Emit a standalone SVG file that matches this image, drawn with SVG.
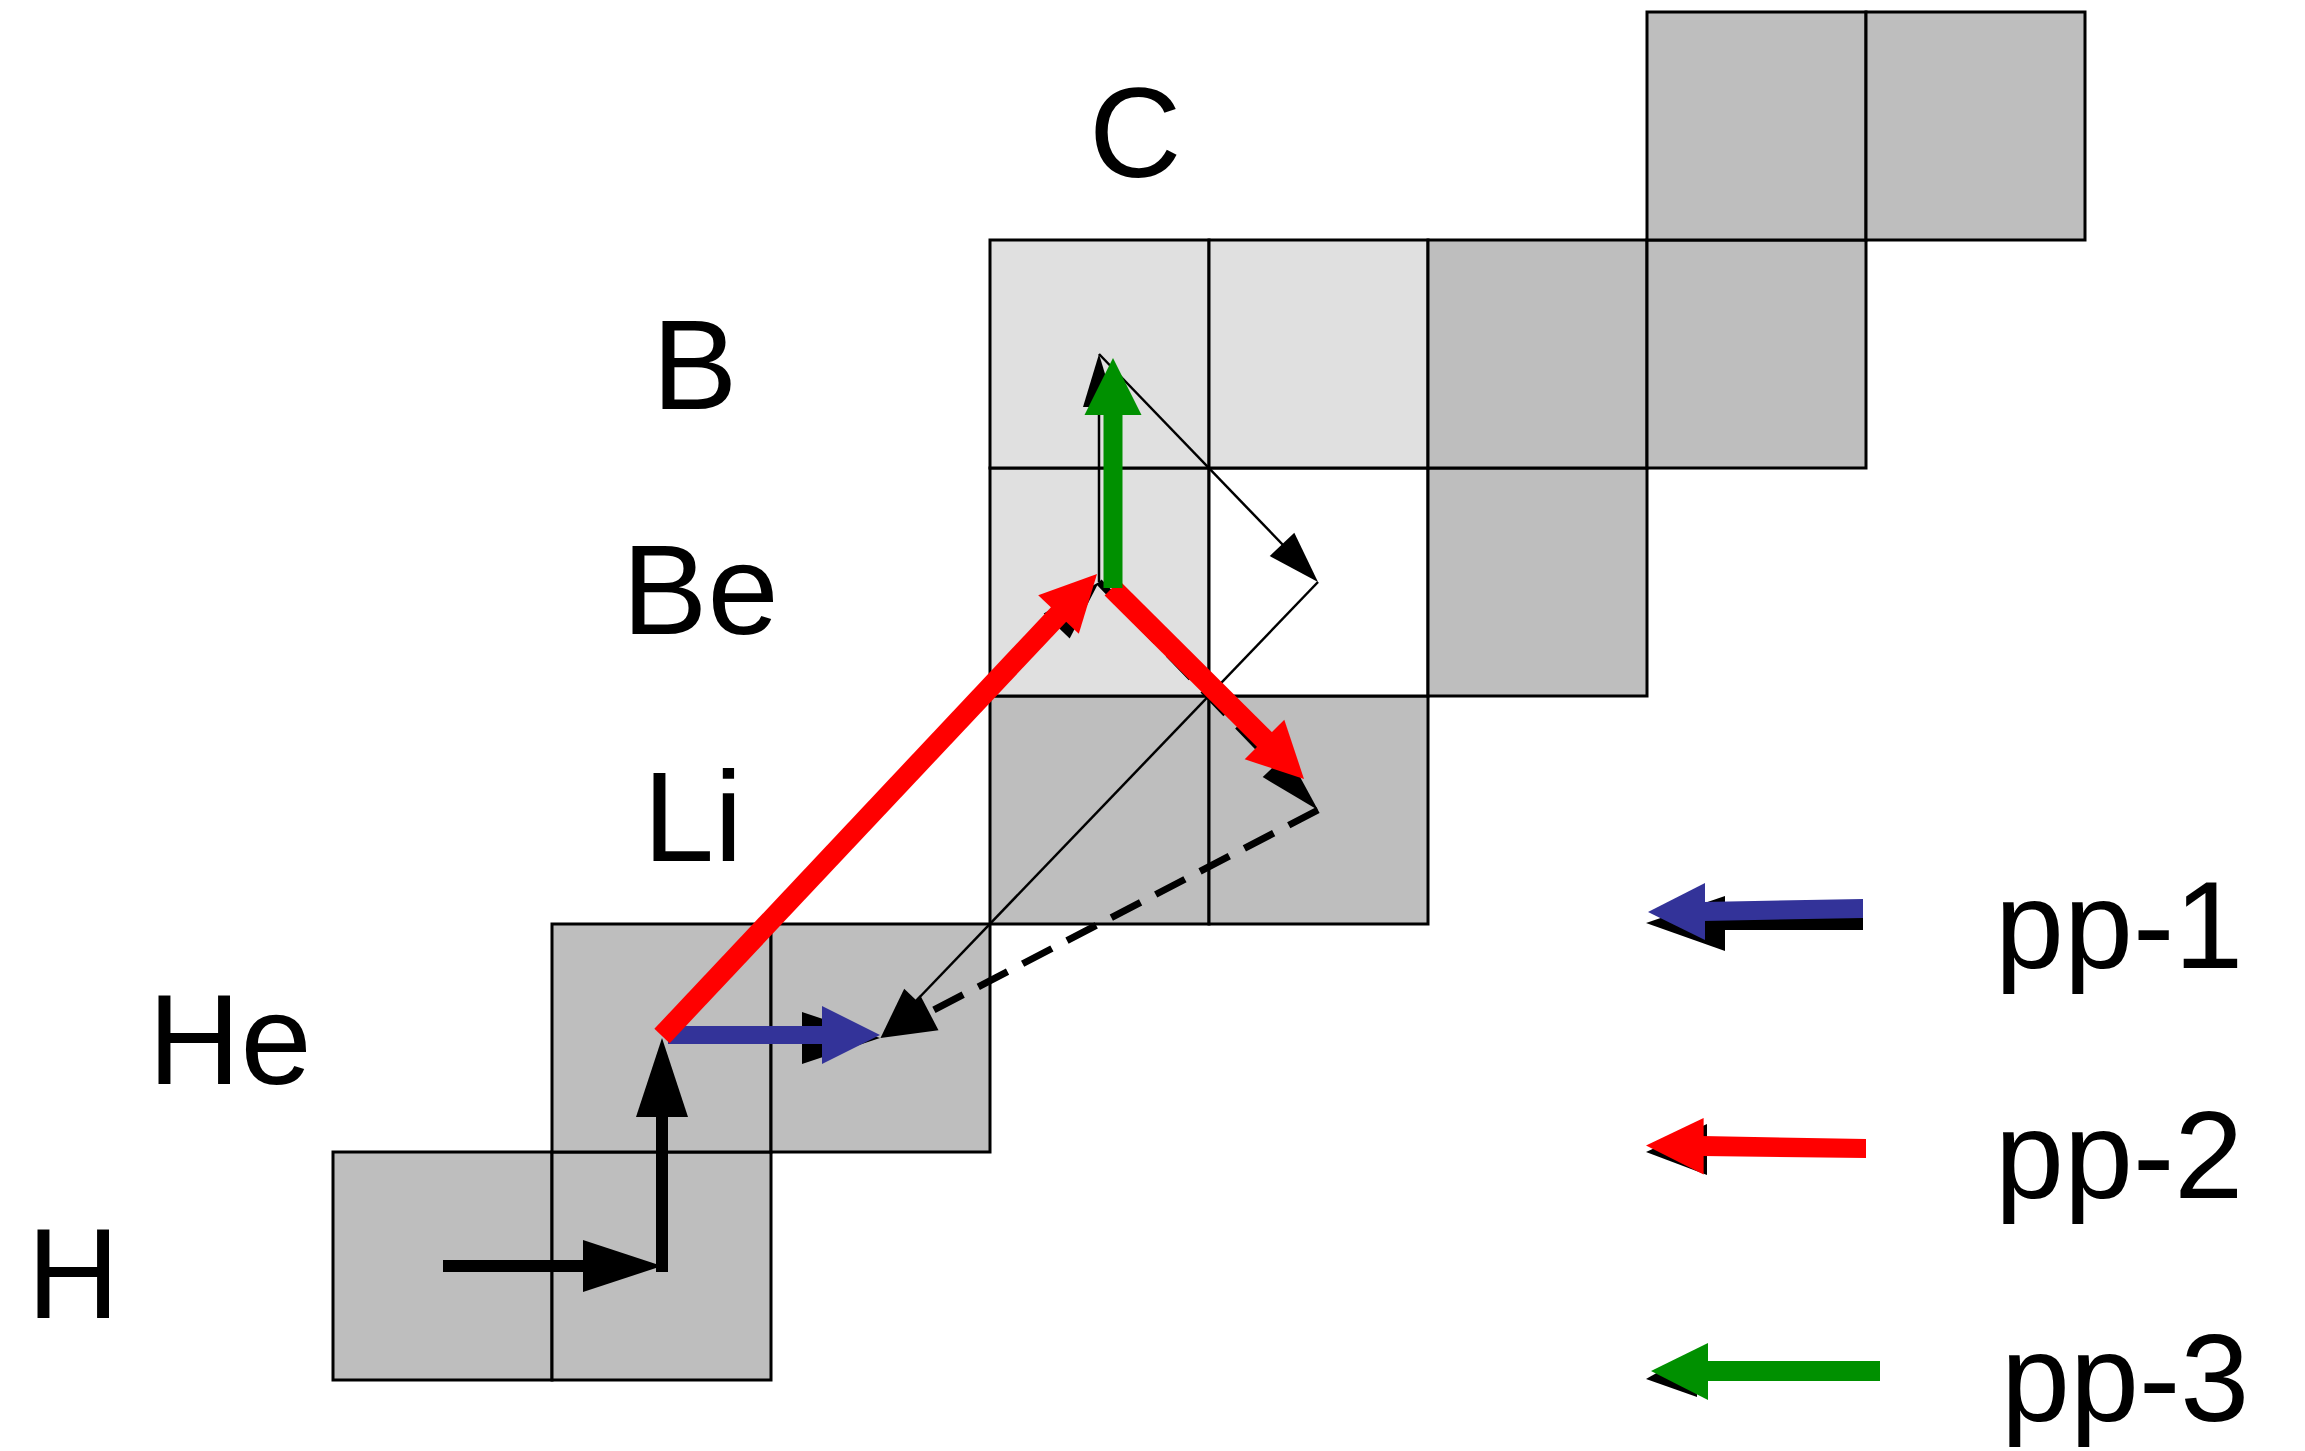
<svg xmlns="http://www.w3.org/2000/svg" width="2305" height="1451" viewBox="0 0 2305 1451">
<style>
.dk{fill:#bebebe;stroke:#000;stroke-width:3}
.lt{fill:#e0e0e0;stroke:#000;stroke-width:3}
.wh{fill:#fff;stroke:#000;stroke-width:3}
.lbl{font-family:"Liberation Sans",Arial,Helvetica,sans-serif;font-size:128px;fill:#000}
.leg{font-family:"Liberation Sans",Arial,Helvetica,sans-serif;font-size:124px;fill:#000}
.thk{stroke:#000;stroke-width:12;fill:none}
.thin{stroke:#000;stroke-width:2.5;fill:none}
.dash{stroke:#000;stroke-width:7;fill:none;stroke-dasharray:33 17}
.bk{fill:#000}
.bl{fill:#333399}
.rd{fill:#ff0000}
.gn{fill:#009000}
</style>
<rect width="2305" height="1451" fill="#fff"/>
<g id="cells">
<g id="cell-H-0"><rect class="dk" x="333" y="1152" width="219" height="228"/></g>
<g id="cell-H-1"><rect class="dk" x="552" y="1152" width="219" height="228"/></g>
<g id="cell-He-1"><rect class="dk" x="552" y="924" width="219" height="228"/></g>
<g id="cell-He-2"><rect class="dk" x="771" y="924" width="219" height="228"/></g>
<g id="cell-Li-3"><rect class="dk" x="990" y="696" width="219" height="228"/></g>
<g id="cell-Li-4"><rect class="dk" x="1209" y="696" width="219" height="228"/></g>
<g id="cell-Be-3"><rect class="lt" x="990" y="468" width="219" height="228"/></g>
<g id="cell-Be-4"><rect class="wh" x="1209" y="468" width="219" height="228"/></g>
<g id="cell-Be-5"><rect class="dk" x="1428" y="468" width="219" height="228"/></g>
<g id="cell-B-3"><rect class="lt" x="990" y="240" width="219" height="228"/></g>
<g id="cell-B-4"><rect class="lt" x="1209" y="240" width="219" height="228"/></g>
<g id="cell-B-5"><rect class="dk" x="1428" y="240" width="219" height="228"/></g>
<g id="cell-B-6"><rect class="dk" x="1647" y="240" width="219" height="228"/></g>
<g id="cell-C-6"><rect class="dk" x="1647" y="12" width="219" height="228"/></g>
<g id="cell-C-7"><rect class="dk" x="1866" y="12" width="219" height="228"/></g>
</g>
<g id="connectors">
<g id="base-arrows">
<line class="thk" x1="443" y1="1266" x2="585" y2="1266"/>
<polygon class="bk" points="583,1240 662,1266 583,1292"/>
<line class="thk" x1="662" y1="1272" x2="662" y2="1115"/>
<polygon class="bk" points="636,1117 662,1038 688,1117"/>
<polygon class="bk" points="802,1012 880,1038 802,1064"/>
<polygon class="bk" points="1069.7,638.5 1099,582 1043.7,613.5"/>
<line class="thin" x1="1099" y1="582" x2="1099" y2="405"/>
<polygon class="bk" points="1083,407 1099,354 1115,407"/>
<line class="thin" x1="1099" y1="354" x2="1284" y2="546"/>
<polygon class="bk" points="1294.3,532.7 1318,582 1269.7,556.1"/>
<line class="thin" x1="1318" y1="582" x2="915" y2="1002"/>
<polygon class="bk" points="928.8,1012.3 880.5,1038 904.2,988.7"/>
<line class="dash" x1="1099" y1="582" x2="1277" y2="767"/>
<polygon class="bk" points="1262.7,777.1 1318,810 1287.3,753.5"/>
<line class="dash" x1="1318" y1="810" x2="928" y2="1013"/>
<polygon class="bk" points="938.5,1030.3 880.5,1038 920.1,994.9"/>
</g>
<g id="pp-arrows">
<line stroke="#333399" stroke-width="18" x1="668" y1="1035" x2="824" y2="1035"/>
<polygon class="bl" points="822,1006 880,1035 822,1064"/>
<line stroke="#ff0000" stroke-width="21" x1="662" y1="1036" x2="1060" y2="613"/>
<polygon class="rd" points="1078.8,633.8 1097,574 1038.2,595.2"/>
<line stroke="#ff0000" stroke-width="21" x1="1112" y1="588" x2="1266" y2="741"/>
<polygon class="rd" points="1284.3,719.7 1304,779 1244.7,759.3"/>
<line stroke="#009000" stroke-width="19" x1="1113" y1="588" x2="1113" y2="413"/>
<polygon class="gn" points="1084.5,415 1113,358 1141.5,415"/>
</g>
<g id="legend-arrows">
<rect class="bk" x="1720" y="903" width="143" height="27"/>
<polygon class="bk" points="1725,896 1646,923 1725,951"/>
<polygon class="bl" points="1703,902 1863,899 1863,918 1703,921"/>
<polygon class="bl" points="1705,883 1648,912 1705,940"/>
<polygon class="bk" points="1707,1124 1646,1152 1707,1175"/>
<polygon class="rd" points="1702,1136 1866,1139 1866,1158 1702,1156"/>
<polygon class="rd" points="1703.6,1118 1646,1145.5 1703.6,1174.5"/>
<rect class="bk" x="1697" y="1365" width="166" height="16"/>
<polygon class="bk" points="1697,1350 1646,1379 1697,1397"/>
<rect class="gn" x="1706" y="1361" width="174" height="20"/>
<polygon class="gn" points="1708,1343 1651,1371 1708,1400"/>
</g>
</g>
<g id="labels">
<text id="lbl-C" class="lbl" x="1089" y="177">C</text>
<text id="lbl-B" class="lbl" x="652" y="409">B</text>
<text id="lbl-Be" class="lbl" x="622" y="634">Be</text>
<text id="lbl-Li" class="lbl" x="643" y="861">Li</text>
<text id="lbl-He" class="lbl" x="148" y="1084">He</text>
<text id="lbl-H" class="lbl" x="27" y="1318">H</text>
</g>
<g id="legend">
<text id="leg-pp1" class="leg" x="1995" y="968">pp-1</text>
<text id="leg-pp2" class="leg" x="1995" y="1198">pp-2</text>
<text id="leg-pp3" class="leg" x="2001" y="1421">pp-3</text>
</g>
</svg>
